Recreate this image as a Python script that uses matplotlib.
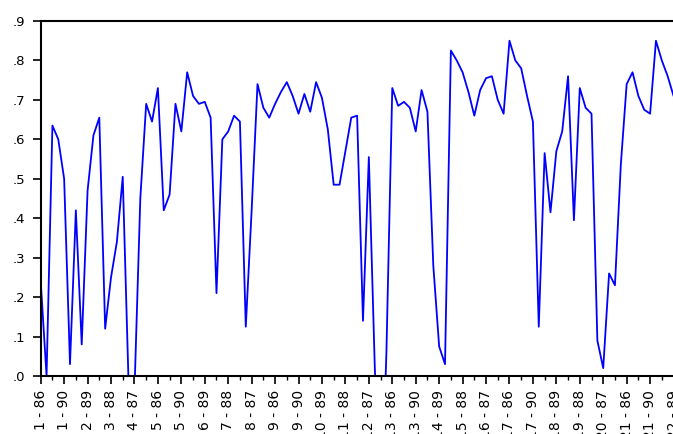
import matplotlib
matplotlib.use("Agg")
import matplotlib.pyplot as plt
from matplotlib.ticker import MultipleLocator, FuncFormatter

values = [
    0.24, 0.00, 0.635, 0.60, 0.50, 0.03, 0.42, 0.08, 0.47, 0.61,
    0.655, 0.12, 0.25, 0.34, 0.505, -0.02, -0.04, 0.45, 0.69, 0.645,
    0.73, 0.42, 0.46, 0.69, 0.62, 0.77, 0.71, 0.69, 0.695, 0.655,
    0.21, 0.60, 0.62, 0.66, 0.645, 0.125, 0.42, 0.74, 0.68, 0.655,
    0.69, 0.72, 0.745, 0.71, 0.665, 0.715, 0.67, 0.745, 0.705, 0.625,
    0.485, 0.485, 0.57, 0.655, 0.66, 0.14, 0.555, 0.03, -0.40, 0.06,
    0.73, 0.685, 0.695, 0.68, 0.62, 0.725, 0.67, 0.28, 0.075, 0.03,
    0.825, 0.80, 0.77, 0.72, 0.66, 0.725, 0.755, 0.76, 0.70, 0.665,
    0.85, 0.80, 0.78, 0.71, 0.645, 0.125, 0.565, 0.415, 0.57, 0.62,
    0.76, 0.395, 0.73, 0.68, 0.665, 0.09, 0.02, 0.26, 0.23, 0.535,
    0.74, 0.77, 0.71, 0.675, 0.665, 0.85, 0.80, 0.76, 0.71, 0.70,
]

tick_labels = [
    "1 - 86", "1 - 90", "2 - 89", "3 - 88", "4 - 87", "5 - 86", "5 - 90",
    "6 - 89", "7 - 88", "8 - 87", "9 - 86", "9 - 90", "10 - 89", "11 - 88",
    "12 - 87", "13 - 86", "13 - 90", "14 - 89", "15 - 88", "16 - 87",
    "17 - 86", "17 - 90", "18 - 89", "19 - 88", "20 - 87", "21 - 86",
    "21 - 90", "22 - 89",
]
label_step = 4

x = list(range(len(values)))
tick_pos = [k * label_step for k in range(len(tick_labels))]

fig = plt.figure(figsize=(6.73, 4.34), dpi=100)
# right edge of the axes runs past the canvas, like the cropped original
ax = fig.add_axes([40.7 / 673, 58 / 434, 638.7 / 673, 355 / 434])

ax.plot(x, values, color="#0000ff", linewidth=1.3)

ax.set_xlim(0, 109)
ax.set_ylim(0, 0.9)

ax.yaxis.set_major_locator(MultipleLocator(0.1))
ax.yaxis.set_major_formatter(FuncFormatter(lambda v, p: f"{v:.1f}".lstrip("0")))

ax.set_xticks(tick_pos)
ax.set_xticklabels(tick_labels, rotation=90)
ax.xaxis.set_minor_locator(MultipleLocator(2))

ax.tick_params(axis="y", direction="out", length=6, width=1.2, pad=5, labelsize=9.5)
ax.tick_params(axis="x", which="major", direction="out", length=6, width=1.2, pad=4, labelsize=10)
ax.tick_params(axis="x", which="minor", direction="out", length=3, width=1.0)
ax.tick_params(right=False, top=False)

for side in ["left", "bottom", "top"]:
    ax.spines[side].set_linewidth(1.5)
ax.spines["right"].set_visible(False)

fig.savefig("out.png", dpi=100)
